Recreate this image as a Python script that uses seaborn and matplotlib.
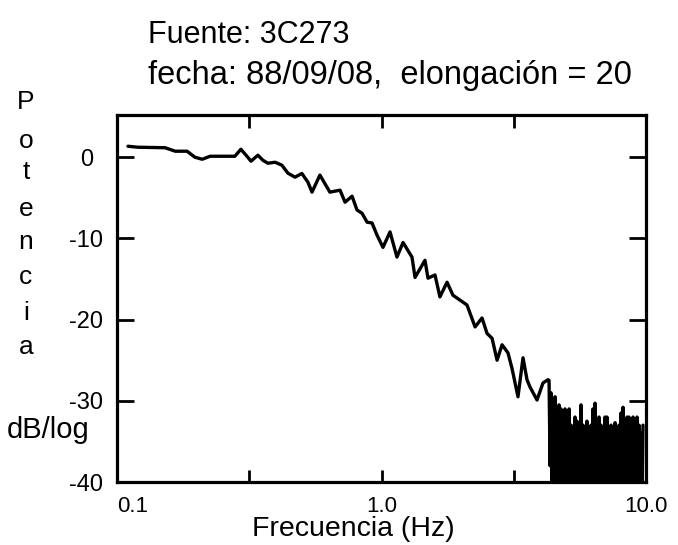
import matplotlib
matplotlib.use("Agg")
import matplotlib.pyplot as plt
import seaborn as sns
import pandas as pd

# --- data (frequency in Hz, power in dB) ---
freq_main = [0.110, 0.120, 0.152, 0.166, 0.184, 0.197, 0.210, 0.225, 0.279, 0.294,
             0.310, 0.321, 0.341, 0.356, 0.372, 0.396, 0.420, 0.443, 0.471, 0.500,
             0.527, 0.546, 0.585, 0.638, 0.697, 0.728, 0.774, 0.808, 0.844, 0.882,
             0.921, 0.962, 1.013, 1.077, 1.144, 1.206, 1.304, 1.339, 1.460, 1.499,
             1.593, 1.663, 1.769, 1.863, 1.980, 2.105, 2.258, 2.399, 2.506, 2.618,
             2.735, 2.856, 3.008, 3.114, 3.281, 3.428, 3.549, 3.643, 3.872, 4.079,
             4.262]
pot_main = [1.35, 1.23, 1.17, 0.74, 0.74, 0.0, -0.25, 0.12, 0.12, 0.98,
            0.12, -0.49, 0.25, -0.37, -0.74, -0.62, -0.98, -1.97, -2.46, -2.0,
            -3.08, -4.3, -2.2, -4.3, -4.06, -5.54, -4.8, -6.5, -6.9, -8.0,
            -8.1, -9.6, -11.1, -9.2, -12.3, -10.5, -12.3, -14.8, -12.7, -14.9,
            -14.5, -17.2, -15.4, -17.0, -17.6, -18.2, -20.9, -19.8, -21.7, -22.3,
            -25.0, -23.1, -24.1, -26.0, -29.5, -24.7, -27.4, -28.3, -29.9, -27.8,
            -27.4]

freq_noise = [4.30, 4.34, 4.37, 4.41, 4.45, 4.49, 4.53, 4.57, 4.61, 4.65,
              4.69, 4.73, 4.77, 4.82, 4.86, 4.90, 4.94, 4.98, 5.03, 5.07,
              5.12, 5.16, 5.21, 5.25, 5.30, 5.34, 5.39, 5.43, 5.48, 5.53,
              5.58, 5.63, 5.68, 5.73, 5.78, 5.83, 5.88, 5.93, 5.98, 6.04,
              6.09, 6.14, 6.20, 6.25, 6.30, 6.36, 6.42, 6.47, 6.53, 6.58,
              6.64, 6.70, 6.76, 6.82, 6.88, 6.94, 7.00, 7.06, 7.12, 7.18,
              7.25, 7.31, 7.37, 7.44, 7.50, 7.57, 7.64, 7.70, 7.77, 7.84,
              7.91, 7.98, 8.04, 8.11, 8.19, 8.26, 8.33, 8.40, 8.48, 8.55,
              8.62, 8.70, 8.78, 8.85, 8.93, 9.01, 9.09, 9.17, 9.25, 9.33,
              9.41, 9.49, 9.57, 9.66, 9.74]
pot_noise = [-27.5, -38, -29, -41, -30, -37, -29.5, -42, -31, -40,
             -30.5, -44, -31, -39, -33, -45, -31, -40, -34, -43,
             -31, -45, -33, -38, -35, -43, -32, -41, -32.5, -44,
             -34, -42, -30.5, -39, -33, -44, -35, -41, -32.5, -40,
             -34, -43, -33, -37, -31, -42, -30.3, -44, -33, -45,
             -32, -39, -33, -44, -34, -40, -32, -43, -32, -38,
             -35, -45, -33, -41, -34, -39, -32.7, -44, -35, -42,
             -33, -38, -31.5, -45, -30.8, -40, -33, -44, -32, -39,
             -32, -43, -34, -45, -32, -41, -33, -42, -32, -40,
             -33, -43, -34, -44, -33]

x_ticks = [0.1, 0.316, 1.0, 3.16, 10.0]
x_tick_labels = ["0.1", "", "1.0", "", "10.0"]
y_ticks = [0, -10, -20, -30, -40]
y_tick_labels = ["0", "-10", "-20", "-30", "-40"]

df = pd.DataFrame({"freq": freq_main + freq_noise, "pot": pot_main + pot_noise})

sns.set_style("white")
plt.rcParams["font.family"] = ["Liberation Sans", "DejaVu Sans"]
plt.rcParams["text.color"] = "black"
plt.rcParams["xtick.color"] = "black"
plt.rcParams["ytick.color"] = "black"
plt.rcParams["axes.labelcolor"] = "black"

W, H = 678, 545
fig = plt.figure(figsize=(W / 100, H / 100), dpi=100)
ax = fig.add_axes([117 / W, 1 - 482 / H, (646 - 117) / W, (482 - 115) / H])

sns.lineplot(data=df, x="freq", y="pot", ax=ax, color="black", linewidth=2.4,
             estimator=None, sort=False)

ax.set_xscale("log")
ax.set_xlim(0.1, 10.0)
ax.set_ylim(-40, 5.2)
ax.set_xticks(x_ticks)
ax.set_xticklabels(x_tick_labels)
ax.minorticks_off()
ax.set_yticks(y_ticks)
ax.set_yticklabels(y_tick_labels, ha="center")
ax.get_xticklabels()[0].set_horizontalalignment("left")
ax.set_xlabel("")
ax.set_ylabel("")

for s in ax.spines.values():
    s.set_linewidth(2.3)
    s.set_color("black")

ax.tick_params(axis="y", which="both", direction="in", length=12, width=2,
               left=True, right=True, labelsize=17, pad=22, colors="black")
ax.tick_params(axis="x", which="both", direction="in", length=9, width=2,
               bottom=True, top=True, labelsize=16, pad=10, colors="black")

def px(x, y):
    return x / W, 1 - y / H

fig.text(*px(148, 35), "Fuente: 3C273", fontsize=22, ha="left", va="center",
         color="black")
fig.text(*px(148, 75), "fecha: 88/09/08,  elongación = 20", fontsize=23.5,
         ha="left", va="center", color="black")

letters = ["P", "o", "t", "e", "n", "c", "i", "a"]
letter_y = [102, 141, 172, 209, 242, 277, 313, 347]
for ch, yy in zip(letters, letter_y):
    fig.text(*px(26, yy), ch, fontsize=19, ha="center", va="center", color="black")

fig.text(*px(48, 430), "dB/log", fontsize=21, ha="center", va="center", color="black")
fig.text(*px(353, 529), "Frecuencia (Hz)", fontsize=20.5, ha="center", va="center",
         color="black")

fig.savefig("out.png", dpi=100)
